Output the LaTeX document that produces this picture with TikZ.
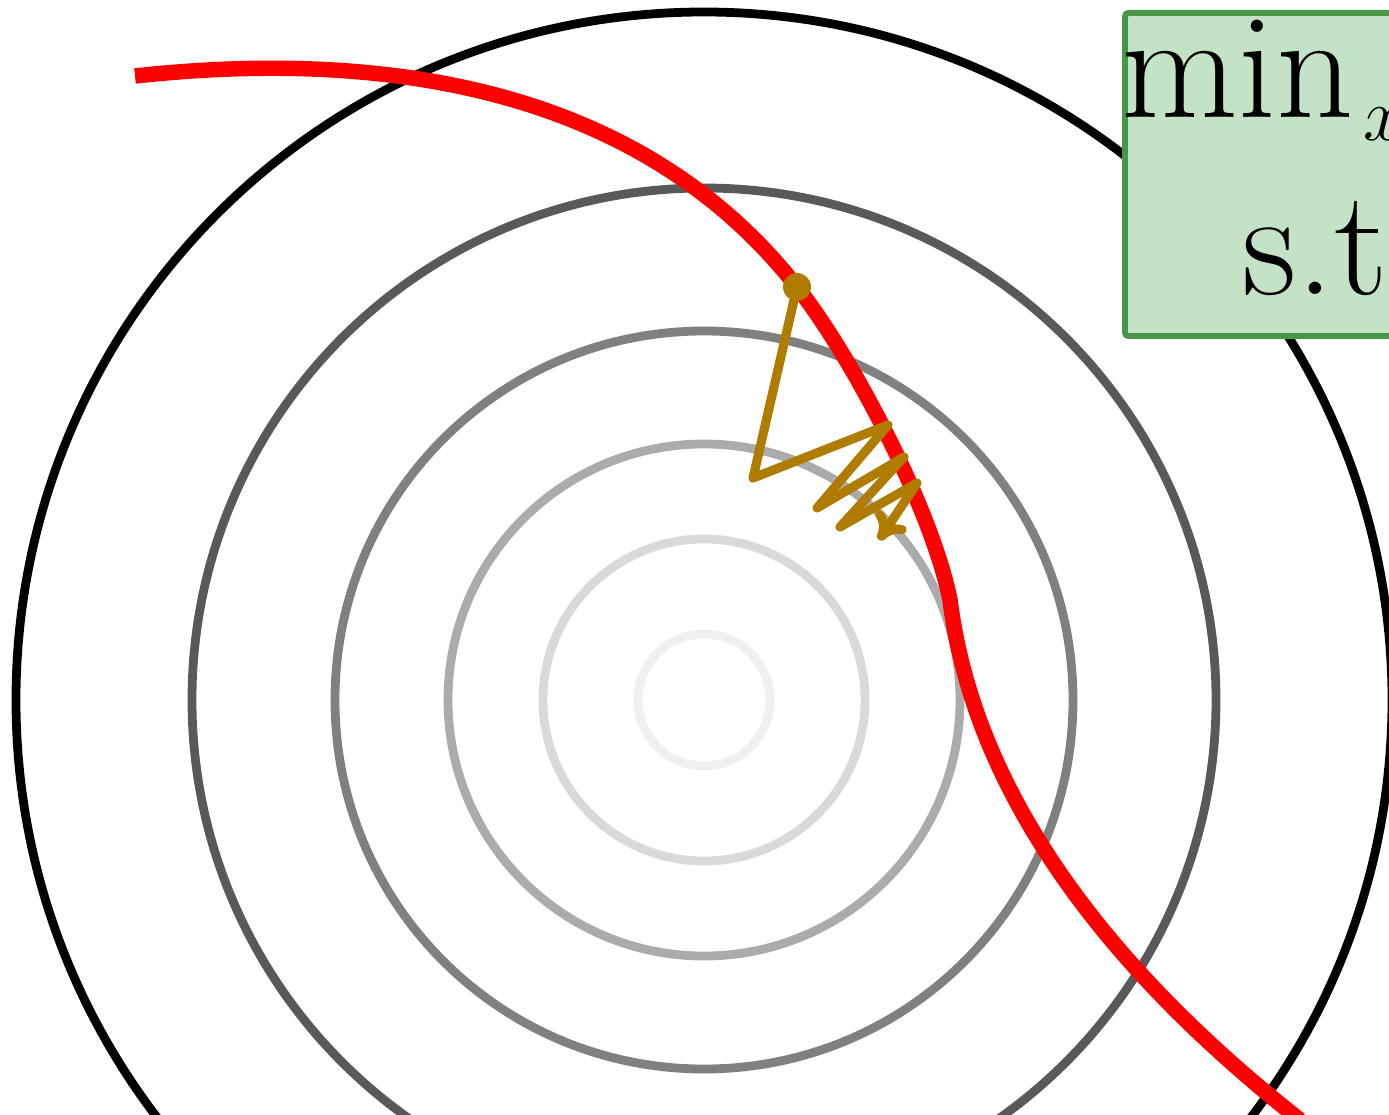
\documentclass[tikz,border=0pt]{standalone}
\usepackage{fix-cm}
\usepackage{amsmath}
\usepackage{fontspec}
\usetikzlibrary{arrows.meta}
\definecolor{boxfill}{RGB}{196,226,198}
\definecolor{boxdraw}{RGB}{72,150,72}
\definecolor{iterate}{RGB}{176,124,0}
\tikzset{
	level/.style={line width=2.5pt},
	constraint/.style={line width=4.4pt, color=red},
	steps/.style={line width=2.6pt, color=iterate, line join=round, line cap=round},
	problem/.style={draw=boxdraw, fill=boxfill, line width=1.7pt, rounded corners=1pt, minimum width=4cm, minimum height=3.23cm, anchor=north west},
	bigtext/.style={font=\fontsize{43}{50}\selectfont, inner sep=0pt}
}
\begin{document}
\begin{tikzpicture}[x=1cm, y=1cm]
	\useasboundingbox (-7.04,-4.14) rectangle (6.85,7.00);
	\clip (-7.04,-4.14) rectangle (6.85,7.00);
	% level sets
	\foreach \r/\c in {6.88/black, 5.12/black!65, 3.69/black!50, 2.56/black!33, 1.61/black!15, 0.66/black!6}
		\draw[level, color=\c] (0,0) circle (\r);
	% constraint
	\draw[constraint] (-5.69,6.24) .. controls (-3.3,6.5) and (-0.68,6.18) .. (0.93,4.13)
		.. controls (1.49,3.42) and (2.28,1.9) .. (2.46,1.0)
		.. controls (2.75,-1.3) and (4.54,-3.08) .. (5.96,-4.20);
	% iterates
	\coordinate (x0) at (0.93,4.13);
	\coordinate (x1) at (0.49,2.22);
	\coordinate (x2) at (1.84,2.75);
	\coordinate (x3) at (1.13,1.92);
	\coordinate (x4) at (2.00,2.43);
	\coordinate (x5) at (1.36,1.73);
	\coordinate (x6) at (2.13,2.17);
	\coordinate (x7) at (1.75,1.60);
	\draw[steps, -{To[length=2.6mm, width=3.6mm]}] (x0) -- (x1) -- (x2) -- (x3) -- (x4) -- (x5) -- (x6) -- (x7);
	\fill[iterate] (x0) circle (0.14);
	% problem
	\node[problem] (box) at (4.18,6.90) {};
	\node[bigtext, anchor=base west] (obj) at (4.17,5.82) {$\min_{\kern3pt\scriptscriptstyle x}$};
	\node[bigtext, anchor=base west] (st) at (5.38,4.05) {s.t.};
\end{tikzpicture}
\end{document}
